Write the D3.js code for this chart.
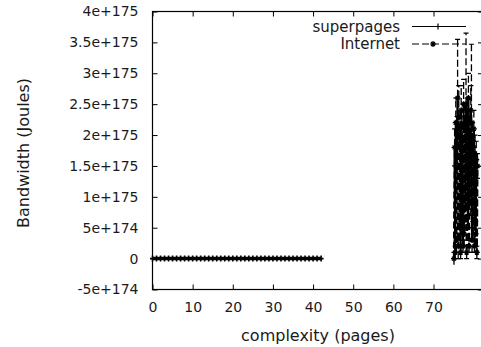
<!DOCTYPE html>
<html>
<head>
<meta charset="utf-8">
<script src="https://cdn.jsdelivr.net/npm/d3@7"></script>
<style>
  body { margin: 0; background: #fff; }
  svg text { font-family: "DejaVu Sans", Verdana, sans-serif; fill: #1a1a1a; }
</style>
</head>
<body>
<div id="chart"></div>
<script>
// superpages: flat run of points at zero
var superX = [0, 1, 2, 3, 4, 5, 6, 7, 8, 9, 10, 11, 12, 13, 14, 15, 16, 17, 18, 19, 20,
              21, 22, 23, 24, 25, 26, 27, 28, 29, 30, 31, 32, 33, 34, 35, 36, 37, 38, 39, 40, 41, 42];
var superY = [0, 0, 0, 0, 0, 0, 0, 0, 0, 0, 0, 0, 0, 0, 0, 0, 0, 0, 0, 0, 0,
              0, 0, 0, 0, 0, 0, 0, 0, 0, 0, 0, 0, 0, 0, 0, 0, 0, 0, 0, 0, 0, 0];

// Internet: dense spiky cluster at the right edge
var intX = [75.1, 75.25, 75.4, 75.55, 75.7, 75.85, 76.0, 76.15, 76.3, 76.45,
            76.6, 76.75, 76.9, 77.05, 77.2, 77.35, 77.5, 77.65, 77.8, 77.95,
            78.1, 78.25, 78.4, 78.55, 78.7, 78.85, 79.0, 79.15, 79.3, 79.45,
            79.6, 79.75, 79.9, 80.05, 80.2, 80.35, 80.5, 80.65, 80.8, 80.95];
var intY = [0, 1.8e175, 0.1e175, 2.2e175, 0.3e175, 2.0e175, 2.6e175, 0.2e175, 2.3e175, 0.5e175,
            2.1e175, 0.1e175, 2.4e175, 0.6e175, 1.9e175, 0.2e175, 2.5e175, 0.4e175, 2.2e175, 0.8e175,
            2.5e175, 0.1e175, 2.3e175, 0.5e175, 2.6e175, 0.2e175, 2.0e175, 0.9e175, 2.4e175, 2.2e175,
            0.3e175, 1.9e175, 0.6e175, 2.1e175, 0.2e175, 1.7e175, 0.4e175, 1.6e175, 0.1e175, 1.5e175];
var intErr = [0.1e175, 0.3e175, 0.1e175, 0.4e175, 0.2e175, 0.3e175, 0.95e175, 0.2e175, 0.5e175, 0.2e175,
              0.3e175, 0.1e175, 0.4e175, 0.2e175, 0.3e175, 0.1e175, 0.4e175, 0.2e175, 0.3e175, 0.2e175,
              1.15e175, 0.1e175, 0.3e175, 0.2e175, 0.4e175, 0.1e175, 0.3e175, 0.2e175, 0.4e175, 1.27e175,
              0.2e175, 0.3e175, 0.2e175, 0.3e175, 0.1e175, 0.3e175, 0.2e175, 0.3e175, 0.1e175, 0.2e175];

var xTicks = [0, 10, 20, 30, 40, 50, 60, 70];
var yTicks = [-5e174, 0, 5e174, 1e175, 1.5e175, 2e175, 2.5e175, 3e175, 3.5e175, 4e175];

var seriesNames = ["superpages", "Internet"];

var width = 481, height = 347;
var plotL = 152.5, plotR = 483, plotT = 11.5, plotB = 289.5;

var svg = d3.select("#chart").append("svg")
    .attr("width", width)
    .attr("height", height);

var x = d3.scaleLinear().domain([0, 82.33]).range([plotL, plotR]);
var y = d3.scaleLinear().domain([-5e174, 4e175]).range([plotB, plotT]);

var fmtY = function(v) { return v === 0 ? "0" : v.toExponential(); };

// axes, ticks pointing inward
svg.append("g")
    .attr("transform", "translate(0," + plotB + ")")
    .call(d3.axisBottom(x).tickValues(xTicks).tickSizeInner(-5).tickSizeOuter(0).tickPadding(13))
    .call(function(g) { g.select(".domain").remove(); })
    .selectAll("text").style("font-size", "14px");

svg.append("g")
    .attr("transform", "translate(0," + plotT + ")")
    .call(d3.axisTop(x).tickValues(xTicks).tickSizeInner(-5).tickSizeOuter(0).tickFormat(""))
    .call(function(g) { g.select(".domain").remove(); });

svg.append("g")
    .attr("transform", "translate(" + plotL + ",0)")
    .call(d3.axisLeft(y).tickValues(yTicks).tickSizeInner(-5).tickSizeOuter(0).tickPadding(14).tickFormat(fmtY))
    .call(function(g) { g.select(".domain").remove(); })
    .selectAll("text").style("font-size", "14px");

svg.append("g")
    .attr("transform", "translate(" + plotR + ",0)")
    .call(d3.axisRight(y).tickValues(yTicks).tickSizeInner(-5).tickSizeOuter(0).tickFormat(""))
    .call(function(g) { g.select(".domain").remove(); });

svg.selectAll(".tick line").attr("stroke", "#000");

// border
svg.append("rect")
    .attr("x", plotL).attr("y", plotT)
    .attr("width", plotR - plotL).attr("height", plotB - plotT)
    .attr("fill", "none").attr("stroke", "#000").attr("stroke-width", 1.2);

// titles
svg.append("text")
    .attr("x", 318).attr("y", 341)
    .attr("text-anchor", "middle")
    .style("font-size", "16px")
    .text("complexity (pages)");

svg.append("text")
    .attr("transform", "translate(29,153) rotate(-90)")
    .attr("text-anchor", "middle")
    .style("font-size", "16px")
    .text("Bandwidth (Joules)");

var line = d3.line().x(function(d) { return x(d[0]); }).y(function(d) { return y(d[1]); });

// superpages
var superPts = superX.map(function(v, i) { return [v, superY[i]]; });
svg.append("path")
    .attr("d", line(superPts))
    .attr("fill", "none").attr("stroke", "#000").attr("stroke-width", 3.5);
svg.append("g").selectAll("path")
    .data(superPts)
  .enter().append("path")
    .attr("d", function(d) {
      var cx = x(d[0]), cy = y(d[1]);
      return "M" + (cx - 2.5) + "," + cy + "H" + (cx + 2.5) + "M" + cx + "," + (cy - 3) + "V" + (cy + 3);
    })
    .attr("stroke", "#000").attr("stroke-width", 1.6);

// Internet
var dash = "7,3";
var intPts = intX.map(function(v, i) { return [v, intY[i], intErr[i]]; });
svg.append("path")
    .attr("d", line(intPts))
    .attr("fill", "none").attr("stroke", "#000").attr("stroke-width", 2.2)
    .attr("stroke-dasharray", dash);
var eb = svg.append("g").selectAll("g")
    .data(intPts)
  .enter().append("g");
eb.append("path")
    .attr("d", function(d) {
      var cx = x(d[0]);
      return "M" + cx + "," + y(d[1] - d[2]) + "V" + y(d[1] + d[2]);
    })
    .attr("stroke", "#000").attr("stroke-width", 1.3).attr("stroke-dasharray", dash);
eb.append("path")
    .attr("d", function(d) {
      var cx = x(d[0]), t = y(d[1] + d[2]), b = y(Math.max(d[1] - d[2], 0));
      return "M" + (cx - 2.5) + "," + t + "H" + (cx + 2.5) + "M" + (cx - 2.5) + "," + b + "H" + (cx + 2.5);
    })
    .attr("stroke", "#000").attr("stroke-width", 1.2);
eb.append("path")
    .attr("d", function(d) {
      var cx = x(d[0]), cy = y(d[1]);
      return "M" + (cx - 3) + "," + cy + "H" + (cx + 3) + "M" + cx + "," + (cy - 3) + "V" + (cy + 3) +
             "M" + (cx - 2) + "," + (cy - 2) + "L" + (cx + 2) + "," + (cy + 2) +
             "M" + (cx - 2) + "," + (cy + 2) + "L" + (cx + 2) + "," + (cy - 2);
    })
    .attr("stroke", "#000").attr("stroke-width", 1.3);

// legend
var legend = svg.append("g");
legend.selectAll("text")
    .data(seriesNames)
  .enter().append("text")
    .attr("x", 400)
    .attr("y", function(d, i) { return 31.5 + i * 17.5; })
    .attr("text-anchor", "end")
    .style("font-size", "15px")
    .text(function(d) { return d; });

legend.append("path")
    .attr("d", "M412,26.5H466M438,23.5V29.5")
    .attr("stroke", "#000").attr("stroke-width", 1.2).attr("fill", "none");
legend.append("path")
    .attr("d", "M412,44H466")
    .attr("stroke", "#000").attr("stroke-width", 1.2).attr("stroke-dasharray", dash);
legend.append("path")
    .attr("d", "M430,44H436M433,41V47M431,42L435,46M431,46L435,42")
    .attr("stroke", "#000").attr("stroke-width", 1.2);
</script>
</body>
</html>
